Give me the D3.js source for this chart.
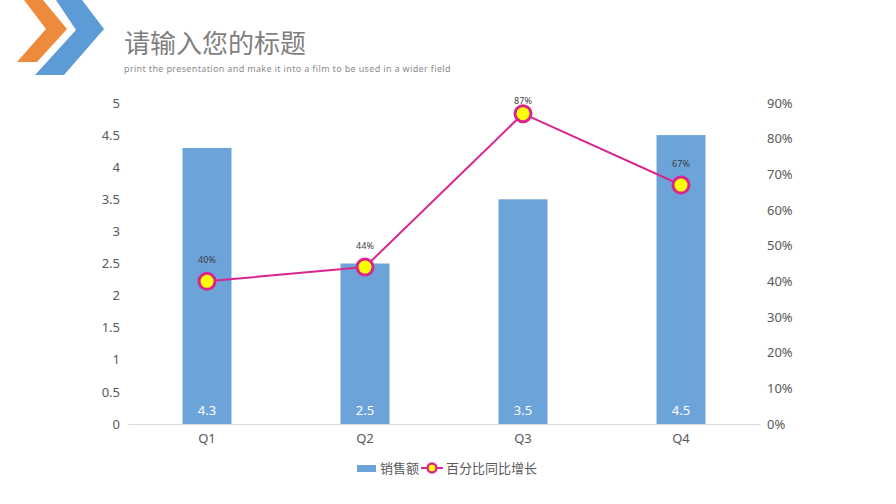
<html>
<head>
<meta charset="utf-8">
<script src="https://d3js.org/d3.v7.min.js"></script>
<style>
body { margin: 0; background: #fff; }
text { font-family: "Noto Sans", "Noto Sans CJK SC", sans-serif; }
.cjk { font-family: "Noto Sans CJK SC", sans-serif; }
</style>
</head>
<body>
<svg width="896" height="504"></svg>
<script>
var quarters = ['Q1', 'Q2', 'Q3', 'Q4'];
var sales = [4.3, 2.5, 3.5, 4.5];
var growth = [0.40, 0.44, 0.87, 0.67];
var leftTicks = [0, 0.5, 1, 1.5, 2, 2.5, 3, 3.5, 4, 4.5, 5];
var rightTicks = [0, 0.1, 0.2, 0.3, 0.4, 0.5, 0.6, 0.7, 0.8, 0.9];

var svg = d3.select('svg');

// logo chevrons
svg.append('polygon').attr('points', '24,0 43,0 67,29 37,62 17,62 46,29').attr('fill', '#ee8a3c');
svg.append('polygon').attr('points', '56,0 82,0 104,29 64,75 35,75 76,30').attr('fill', '#5d9bd6');

svg.append('text').attr('class', 'cjk').attr('x', 124).attr('y', 53)
  .attr('font-size', 26).attr('fill', '#7f7f7f').text('请输入您的标题');
svg.append('text').attr('x', 124).attr('y', 72)
  .attr('font-size', 9).attr('letter-spacing', 0.35).attr('fill', '#8c8c8c')
  .text('print the presentation and make it into a film to be used in a wider field');

var xs = d3.scaleBand().domain(quarters).range([128, 760]);
var yl = d3.scaleLinear().domain([0, 5]).range([424, 103]);
var yr = d3.scaleLinear().domain([0, 0.9]).range([424, 103]);

// left axis
var gl = svg.append('g').attr('transform', 'translate(120,0)')
  .call(d3.axisLeft(yl).tickValues(leftTicks).tickSize(0).tickPadding(0).tickFormat(d3.format('~g')));
gl.select('.domain').remove();
gl.selectAll('text').attr('font-size', 13).attr('fill', '#595959');

// right axis
var gr = svg.append('g').attr('transform', 'translate(767,0)')
  .call(d3.axisRight(yr).tickValues(rightTicks).tickSize(0).tickPadding(0).tickFormat(d3.format('.0%')));
gr.select('.domain').remove();
gr.selectAll('text').attr('font-size', 13).attr('fill', '#595959');

// bottom axis
var gb = svg.append('g').attr('transform', 'translate(0,424)')
  .call(d3.axisBottom(xs).tickSize(0).tickPadding(10));
gb.select('.domain').attr('stroke', '#d9d9d9');
gb.selectAll('text').attr('font-size', 13).attr('fill', '#595959');

var bw = 49;
svg.append('g').selectAll('rect').data(sales).enter().append('rect')
  .attr('x', function(d, i) { return xs(quarters[i]) + xs.bandwidth() / 2 - bw / 2; })
  .attr('y', function(d) { return yl(d); })
  .attr('width', bw)
  .attr('height', function(d) { return yl(0) - yl(d); })
  .attr('fill', '#6ca3d8');

svg.append('g').selectAll('text').data(sales).enter().append('text')
  .attr('x', function(d, i) { return xs(quarters[i]) + xs.bandwidth() / 2; })
  .attr('y', 415)
  .attr('text-anchor', 'middle').attr('font-size', 13).attr('fill', '#fff')
  .text(function(d) { return d; });

var cx = function(d, i) { return xs(quarters[i]) + xs.bandwidth() / 2; };
var line = d3.line().x(cx).y(function(d) { return yr(d); });
svg.append('path').datum(growth).attr('d', line)
  .attr('fill', 'none').attr('stroke', '#d9268f').attr('stroke-width', 2);

svg.append('g').selectAll('circle').data(growth).enter().append('circle')
  .attr('cx', cx).attr('cy', function(d) { return yr(d); })
  .attr('r', 8).attr('fill', '#ffff00').attr('stroke', '#d9268f').attr('stroke-width', 3);

svg.append('g').selectAll('text').data(growth).enter().append('text')
  .attr('x', cx).attr('y', function(d) { return Math.max(yr(d) - 18, 104); })
  .attr('text-anchor', 'middle').attr('font-size', 9).attr('fill', '#404040')
  .text(d3.format('.0%'));

// legend
var lg = svg.append('g');
lg.append('rect').attr('x', 357).attr('y', 465).attr('width', 19).attr('height', 7).attr('fill', '#6ca3d8');
lg.append('text').attr('class', 'cjk').attr('x', 380).attr('y', 473).attr('font-size', 13).attr('fill', '#595959').text('销售额');
lg.append('line').attr('x1', 421).attr('x2', 443).attr('y1', 468).attr('y2', 468).attr('stroke', '#d9268f').attr('stroke-width', 2);
lg.append('circle').attr('cx', 432).attr('cy', 468).attr('r', 4.5).attr('fill', '#ffff00').attr('stroke', '#d9268f').attr('stroke-width', 2.5);
lg.append('text').attr('class', 'cjk').attr('x', 446).attr('y', 473).attr('font-size', 13).attr('fill', '#595959').text('百分比同比增长');
</script>
</body>
</html>
